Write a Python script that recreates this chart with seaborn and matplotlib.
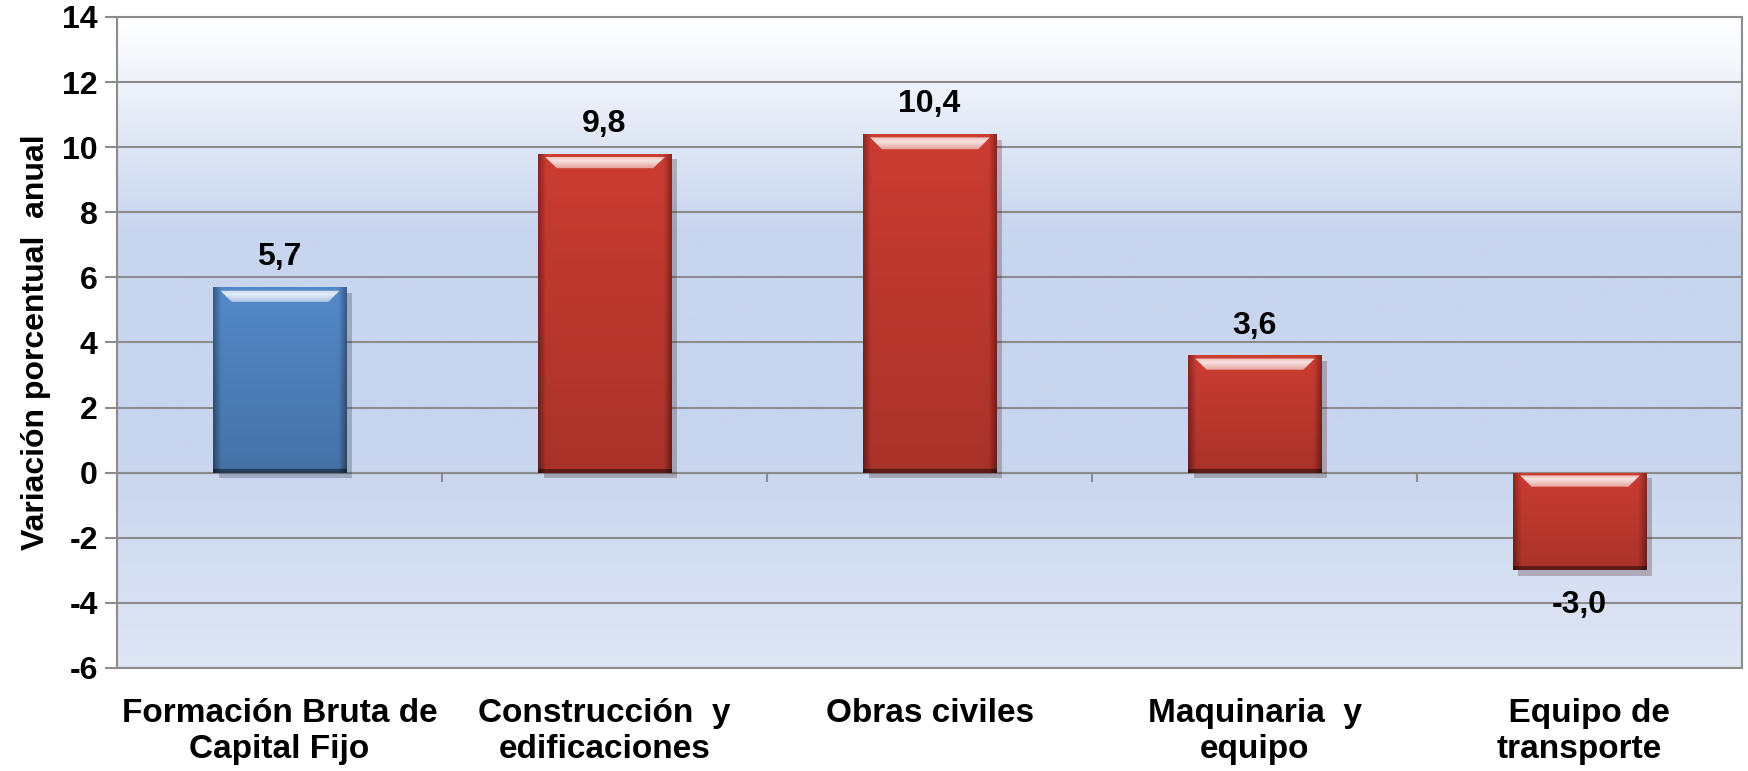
import numpy as np
import pandas as pd
import matplotlib
matplotlib.use("Agg")
import matplotlib.pyplot as plt
import matplotlib.patheffects as pe
from matplotlib.colors import LinearSegmentedColormap, to_rgb
import seaborn as sns

categories = ["Formación Bruta de\nCapital Fijo", "Construcción  y\nedificaciones",
              "Obras civiles", "Maquinaria  y\nequipo", "  Equipo de\ntransporte"]
values = [5.7, 9.8, 10.4, 3.6, -3.0]
value_labels = ["5,7", "9,8", "10,4", "3,6", "-3,0"]
bar_colors = ["#4F81BD", "#C0392F", "#C0392F", "#C0392F", "#C0392F"]
y_ticks = [-6, -4, -2, 0, 2, 4, 6, 8, 10, 12, 14]

sns.set_style("white")
plt.rcParams["font.family"] = ["Liberation Sans", "DejaVu Sans"]
plt.rcParams["font.weight"] = "bold"
for k in ["text.color", "axes.labelcolor", "xtick.labelcolor", "ytick.labelcolor"]:
    plt.rcParams[k] = "black"

df = pd.DataFrame({"cat": categories, "val": values})

fig = plt.figure(figsize=(17.48, 7.71), dpi=100)
ax = fig.add_axes([0.067, 0.1336, 0.9296, 0.8444])

# background gradient
grad = LinearSegmentedColormap.from_list(
    "bg", ["#dfe6f4", "#c8d5ee", "#c8d5ee", "#ffffff"])
ax.imshow(np.linspace(0, 1, 256).reshape(-1, 1), cmap=grad, origin="lower",
          extent=[-0.5, len(categories) - 0.5, -6, 14], aspect="auto", zorder=0)

sns.barplot(data=df, x="cat", y="val", hue="cat", palette=bar_colors,
            saturation=1, legend=False, width=0.41, ax=ax, zorder=3)

# bevelled look: fill each bar with a shaded image clipped to the bar
for p, col in zip(ax.patches, bar_colors):
    x0, w = p.get_x(), p.get_width()
    y_lo = min(p.get_y(), p.get_y() + p.get_height())
    y_hi = max(p.get_y(), p.get_y() + p.get_height())
    h = y_hi - y_lo
    ny, nx = 400, 160
    base = np.array(to_rgb(col))
    xs = np.linspace(0, 1, nx)
    dist_top = np.linspace(0, h, ny)[:, None]  # data units from top
    edge = np.minimum(xs, 1 - xs)[None, :]
    shade = 1.06 - 0.18 * (dist_top / max(h, 1)) - 0.35 * np.clip(0.06 - edge, 0, None) / 0.06
    img = np.clip(base[None, None, :] * shade[..., None], 0, 1)
    # highlight band near the top
    band = (dist_top > 0.1) & (dist_top < 0.45) & (edge > 0.05 + 0.25 * (dist_top - 0.1))
    band = np.broadcast_to(band, (ny, nx))
    strength = np.broadcast_to(
        0.85 - 1.4 * np.abs(dist_top - 0.22), (ny, nx))
    strength = np.clip(strength, 0.3, 0.95)
    img[band] = img[band] * (1 - strength[band, None]) + strength[band, None]
    # dark rim at bottom
    rim = np.broadcast_to(dist_top > h - 0.12, (ny, nx))
    img[rim] = img[rim] * 0.55
    im = ax.imshow(img, extent=[x0, x0 + w, y_lo, y_hi], aspect="auto",
                   origin="upper", zorder=3.5)
    im.set_clip_path(p)
    p.set_edgecolor("none")
    p.set_path_effects([pe.SimplePatchShadow(offset=(4, -4), alpha=0.25),
                        pe.Normal()])

for i, (v, lab) in enumerate(zip(values, value_labels)):
    if v >= 0:
        ax.text(i, v + 0.45, lab, ha="center", va="bottom", fontsize=23,
                fontweight="bold", zorder=5)
    else:
        ax.text(i, v - 0.6, lab, ha="center", va="top", fontsize=23,
                fontweight="bold", zorder=5)

ax.set_xlim(-0.5, len(categories) - 0.5)
ax.set_ylim(-6, 14)
ax.set_yticks(y_ticks)
ax.set_yticklabels([str(t) for t in y_ticks], fontsize=23, fontweight="bold")
ax.yaxis.grid(True, color="#8c8c8c", linewidth=1.5, zorder=1)
ax.set_axisbelow(True)

ax.tick_params(axis="y", left=True, length=9, width=1.5, color="#8c8c8c", pad=5)
ax.tick_params(axis="x", bottom=False, labelsize=24, pad=18)
for lab in ax.get_xticklabels():
    lab.set_fontweight("bold")
    lab.set_linespacing(1.2)

# category axis at zero
ax.axhline(0, color="#8c8c8c", linewidth=1.5, zorder=2)
ax.vlines(np.arange(len(categories) - 1) + 0.5, -0.3, 0, color="#8c8c8c",
          linewidth=1.5, zorder=2)

for s in ax.spines.values():
    s.set_color("#8c8c8c")
    s.set_linewidth(1.5)

ax.set_xlabel("")
ax.set_ylabel("Variación porcentual  anual", fontsize=23, fontweight="bold",
              labelpad=8)

fig.savefig("out.png", dpi=100)
